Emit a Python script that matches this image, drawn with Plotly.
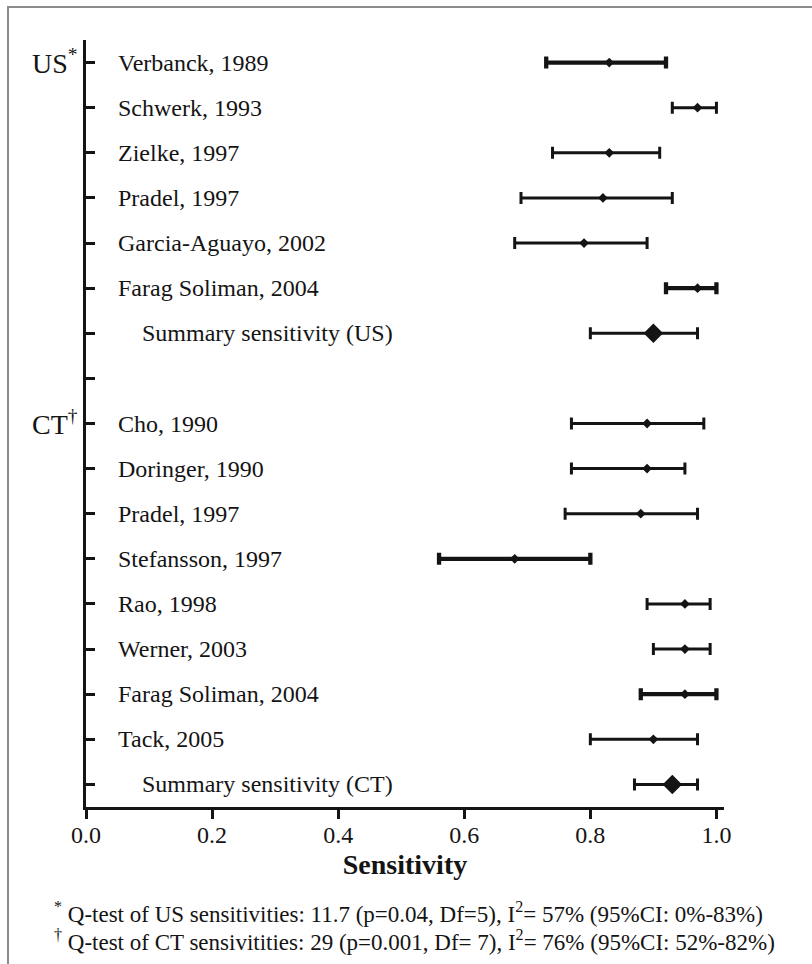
import plotly.graph_objects as go

# ---- data -------------------------------------------------------------
us_studies = ["Verbanck, 1989", "Schwerk, 1993", "Zielke, 1997", "Pradel, 1997",
              "Garcia-Aguayo, 2002", "Farag Soliman, 2004"]
us_sens = [0.83, 0.97, 0.83, 0.82, 0.79, 0.97]
us_lo = [0.73, 0.93, 0.74, 0.69, 0.68, 0.92]
us_hi = [0.92, 1.00, 0.91, 0.93, 0.89, 1.00]
us_summary = [0.90, 0.80, 0.97]          # estimate, lower, upper

ct_studies = ["Cho, 1990", "Doringer, 1990", "Pradel, 1997", "Stefansson, 1997",
              "Rao, 1998", "Werner, 2003", "Farag Soliman, 2004", "Tack, 2005"]
ct_sens = [0.89, 0.89, 0.88, 0.68, 0.95, 0.95, 0.95, 0.90]
ct_lo = [0.77, 0.77, 0.76, 0.56, 0.89, 0.90, 0.88, 0.80]
ct_hi = [0.98, 0.95, 0.97, 0.80, 0.99, 0.99, 1.00, 0.97]
ct_summary = [0.93, 0.87, 0.97]

x_ticks = [0.0, 0.2, 0.4, 0.6, 0.8, 1.0]
group_labels = ["US<sup>*</sup>", "CT<sup>\u2020</sup>"]
summary_labels = ["Summary sensitivity (US)", "Summary sensitivity (CT)"]
footnotes = [
    "<sup>*</sup> Q-test of US sensitivities: 11.7 (p=0.04, Df=5), I<sup>2</sup>= 57% (95%CI: 0%-83%)",
    "<sup>\u2020</sup> Q-test of CT sensivitities: 29 (p=0.001, Df= 7), I<sup>2</sup>= 76% (95%CI: 52%-82%)",
]

# ---- layout constants ---------------------------------------------------
W, H = 812, 964
ML, MR, MT, MB = 86, 88, 40, 157
PW, PH = W - ML - MR, H - MT - MB
INK = "#141414"
FONT = "Liberation Serif, Times New Roman, serif"
heavy_studies = {("US", 0), ("US", 5), ("CT", 3), ("CT", 6)}


def px_x(px):
    return (px - ML) / PW


def px_y(py):
    return (H - MB - py) / PH


# ---- assemble rows (top to bottom), with a spacer row between groups ---
rows = []
for i, name in enumerate(us_studies):
    rows.append(dict(label=name, est=us_sens[i], lo=us_lo[i], hi=us_hi[i],
                     summary=False, heavy=("US", i) in heavy_studies))
rows.append(dict(label=summary_labels[0], est=us_summary[0], lo=us_summary[1],
                 hi=us_summary[2], summary=True, heavy=False))
rows.append(None)
for i, name in enumerate(ct_studies):
    rows.append(dict(label=name, est=ct_sens[i], lo=ct_lo[i], hi=ct_hi[i],
                     summary=False, heavy=("CT", i) in heavy_studies))
rows.append(dict(label=summary_labels[1], est=ct_summary[0], lo=ct_summary[1],
                 hi=ct_summary[2], summary=True, heavy=False))

fig = go.Figure()
annotations = []
for y, r in enumerate(rows):
    if r is None:
        continue
    fig.add_trace(go.Scatter(
        x=[r["est"]], y=[y], mode="markers",
        marker=dict(symbol="diamond", size=15 if r["summary"] else 7.5, color=INK,
                    line=dict(width=0)),
        error_x=dict(type="data", symmetric=False,
                     array=[r["hi"] - r["est"]], arrayminus=[r["est"] - r["lo"]],
                     color=INK, thickness=4.3 if r["heavy"] else 3, width=6),
        showlegend=False, hoverinfo="skip", cliponaxis=False,
    ))
    annotations.append(dict(
        x=0, y=y, xref="x", yref="y", text=r["label"], showarrow=False,
        xanchor="left", yanchor="middle", xshift=54 if r["summary"] else 30,
        font=dict(family=FONT, size=24, color=INK),
    ))

# group headings to the left of the axis
for text, y in zip(group_labels, [0, 8]):
    annotations.append(dict(
        x=0, y=y, xref="x", yref="y", text=text, showarrow=False,
        xanchor="right", yanchor="middle", xshift=-6, yshift=1,
        font=dict(family=FONT, size=28, color=INK),
    ))

# footnotes below the axis
for text, py in zip(footnotes, [912, 941]):
    annotations.append(dict(
        x=px_x(52), y=px_y(py), xref="paper", yref="paper", text=text,
        showarrow=False, xanchor="left", yanchor="middle",
        font=dict(family=FONT, size=23, color=INK),
    ))

fig.update_layout(
    width=W, height=H,
    margin=dict(l=ML, r=MR, t=MT, b=MB, pad=0),
    paper_bgcolor="white", plot_bgcolor="white",
    font=dict(family=FONT, size=24, color=INK),
    annotations=annotations,
    shapes=[dict(type="rect", xref="paper", yref="paper",
                 x0=px_x(8), x1=px_x(W + 20), y0=px_y(H + 20), y1=px_y(7),
                 line=dict(color="#8c8c8c", width=2), layer="below")],
    xaxis=dict(
        range=[0, 1.012], tickvals=x_ticks, tickformat=".1f",
        showgrid=False, zeroline=False, showline=True, linewidth=3, linecolor=INK,
        ticks="outside", ticklen=9, tickwidth=3, tickcolor=INK,
        ticklabelstandoff=-5,
        tickfont=dict(family=FONT, size=24, color=INK),
        title=dict(text="<b>Sensitivity</b>", standoff=8,
                   font=dict(family=FONT, size=28, color=INK)),
    ),
    yaxis=dict(
        range=[len(rows) - 0.5, -0.5], tickvals=list(range(len(rows))),
        showticklabels=False, showgrid=False, zeroline=False,
        showline=True, linewidth=3, linecolor=INK,
        ticks="inside", ticklen=9, tickwidth=3, tickcolor=INK,
    ),
)

fig.write_html("out.html")
